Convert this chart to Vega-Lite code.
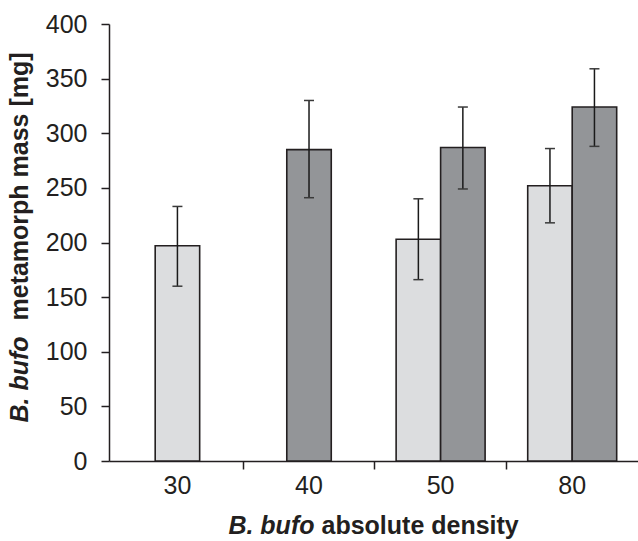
{
  "$schema": "https://vega.github.io/schema/vega-lite/v6.json",
  "width": 529,
  "height": 437,
  "autosize": {"type": "none"},
  "padding": {"left": 109, "top": 24, "right": 0, "bottom": 80},
  "background": "white",
  "config": {
    "view": {"stroke": null},
    "axis": {
      "grid": false,
      "labelFont": "Liberation Sans",
      "titleFont": "Liberation Sans",
      "labelFontSize": 25,
      "labelColor": "#231f20",
      "titleColor": "#231f20",
      "domainColor": "#231f20",
      "tickColor": "#231f20",
      "domainWidth": 1.5,
      "tickWidth": 1.5
    }
  },
  "data": {
    "values": [
      {"density": "30", "series": "treatment 1", "mass": 197, "lo": 160, "hi": 233},
      {"density": "40", "series": "treatment 2", "mass": 285, "lo": 241, "hi": 330},
      {"density": "50", "series": "treatment 1", "mass": 203, "lo": 166, "hi": 240},
      {"density": "50", "series": "treatment 2", "mass": 287, "lo": 249, "hi": 324},
      {"density": "80", "series": "treatment 1", "mass": 252, "lo": 218, "hi": 286},
      {"density": "80", "series": "treatment 2", "mass": 324, "lo": 288, "hi": 359}
    ]
  },
  "transform": [
    {"joinaggregate": [{"op": "count", "as": "n"}], "groupby": ["density"]}
  ],
  "layer": [
    {
      "transform": [{"filter": "datum.n == 2"}],
      "mark": {"type": "bar", "stroke": "#231f20", "strokeWidth": 1.6},
      "encoding": {
        "x": {
          "field": "density", "type": "ordinal",
          "scale": {"domain": ["30", "40", "50", "80"], "paddingInner": 0, "paddingOuter": 0.01, "align": 1},
          "axis": {
            "orient": "bottom", "ticks": false, "labelPadding": 12, "labelAngle": 0,
            "title": "B. bufo", "titleFontStyle": "italic", "titleFontWeight": "bold", "titleFontSize": 25,
            "titleAlign": "right", "titleBaseline": "alphabetic", "titleX": 205, "titleY": 72
          }
        },
        "xOffset": {"field": "series", "type": "nominal", "scale": {"paddingInner": 0, "paddingOuter": 0.479}},
        "y": {
          "field": "mass", "type": "quantitative",
          "scale": {"domain": [0, 400], "nice": false},
          "axis": {
            "orient": "left", "values": [0, 50, 100, 150, 200, 250, 300, 350, 400],
            "tickSize": 8, "labelPadding": 14,
            "title": "B. bufo", "titleFontStyle": "italic", "titleFontWeight": "bold", "titleFontSize": 25,
            "titleAngle": -90, "titleAlign": "left", "titleBaseline": "alphabetic", "titleX": -82, "titleY": 398
          }
        },
        "color": {
          "field": "series", "type": "nominal",
          "scale": {"domain": ["treatment 1", "treatment 2"], "range": ["#dcdddf", "#939598"]},
          "legend": null
        }
      }
    },
    {
      "transform": [{"filter": "datum.n == 1"}],
      "mark": {"type": "bar", "stroke": "#231f20", "strokeWidth": 1.6, "width": {"band": 0.338}},
      "encoding": {
        "x": {
          "field": "density", "type": "ordinal",
          "axis": {
            "orient": "bottom", "values": ["40", "50", "80"], "bandPosition": 0,
            "labels": false, "domain": false, "ticks": true, "tickSize": 8,
            "title": "absolute density", "titleFontWeight": "bold", "titleFontSize": 25,
            "titleAlign": "left", "titleBaseline": "alphabetic", "titleX": 212, "titleY": 72
          }
        },
        "y": {
          "field": "mass", "type": "quantitative",
          "axis": {
            "orient": "left", "domain": false, "ticks": false, "labels": false,
            "title": "metamorph mass [mg]", "titleFontWeight": "bold", "titleFontSize": 25,
            "titleAngle": -90, "titleAlign": "left", "titleBaseline": "alphabetic", "titleX": -82, "titleY": 296
          }
        },
        "color": {"field": "series", "type": "nominal", "legend": null}
      }
    },
    {
      "transform": [{"filter": "datum.n == 2"}],
      "mark": {"type": "rule", "color": "#1a1a1a", "strokeWidth": 1.5},
      "encoding": {
        "x": {"field": "density", "type": "ordinal", "axis": null},
        "xOffset": {"field": "series", "type": "nominal"},
        "y": {"field": "lo", "type": "quantitative", "axis": null},
        "y2": {"field": "hi"}
      }
    },
    {
      "transform": [{"filter": "datum.n == 1"}],
      "mark": {"type": "rule", "color": "#1a1a1a", "strokeWidth": 1.5},
      "encoding": {
        "x": {"field": "density", "type": "ordinal", "axis": null},
        "y": {"field": "lo", "type": "quantitative", "axis": null},
        "y2": {"field": "hi"}
      }
    },
    {
      "transform": [{"filter": "datum.n == 2"}, {"fold": ["lo", "hi"], "as": ["k", "v"]}],
      "mark": {"type": "tick", "color": "#3a3a3a", "size": 10, "thickness": 1.5, "opacity": 1},
      "encoding": {
        "x": {"field": "density", "type": "ordinal", "axis": null},
        "xOffset": {"field": "series", "type": "nominal"},
        "y": {"field": "v", "type": "quantitative", "axis": null}
      }
    },
    {
      "transform": [{"filter": "datum.n == 1"}, {"fold": ["lo", "hi"], "as": ["k", "v"]}],
      "mark": {"type": "tick", "color": "#3a3a3a", "size": 10, "thickness": 1.5, "opacity": 1},
      "encoding": {
        "x": {"field": "density", "type": "ordinal", "axis": null},
        "y": {"field": "v", "type": "quantitative", "axis": null}
      }
    }
  ],
  "resolve": {"axis": {"x": "independent", "y": "independent"}}
}
